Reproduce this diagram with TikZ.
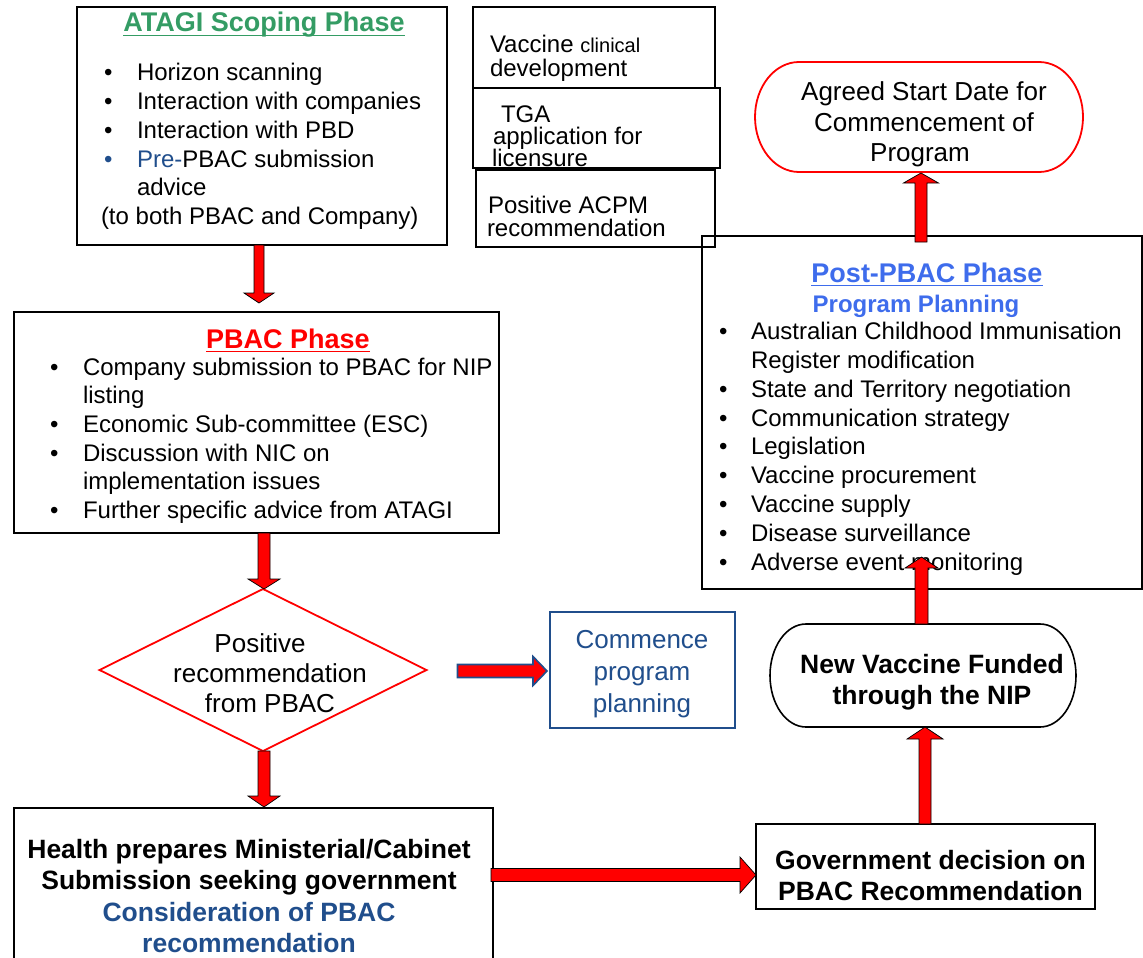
\documentclass[tikz,border=0pt]{standalone}
\usepackage{fontspec}
\setmainfont{Liberation Sans}
\usetikzlibrary{calc,shapes.geometric}
\definecolor{agreen}{RGB}{52,156,100}
\definecolor{pred}{RGB}{255,0,0}
\definecolor{pblue}{RGB}{62,108,236}
\definecolor{dblue}{RGB}{32,78,140}
\newcommand\fr{\fontsize{24}{29}\selectfont}
\newcommand\fl{\fontsize{26}{31}\selectfont}
\newcommand\fb{\fontsize{26.5}{31}\selectfont\bfseries}
\newcommand\ft{\fontsize{27}{31}\selectfont\bfseries}
\newcommand\fsm{\fontsize{20}{24}\selectfont}
% vertical / horizontal block arrows between named anchors
\newcommand\fatdown[8][fatred]{%
 \filldraw[#1] let \p1=(#3), \p2=(#4) in
 (#2pt-#6pt,\y1) -- (#2pt-#6pt,\y2+#5pt+#8pt) -- (#2pt-#7pt,\y2+#5pt+#8pt) -- (#2pt,\y2+#5pt) -- (#2pt+#7pt,\y2+#5pt+#8pt) -- (#2pt+#6pt,\y2+#5pt+#8pt) -- (#2pt+#6pt,\y1) -- cycle;}
\newcommand\fatup[8][fatred]{%
 \filldraw[#1] let \p1=(#3), \p2=(#4) in
 (#2pt-#6pt,\y1) -- (#2pt-#6pt,\y2-#5pt-#8pt) -- (#2pt-#7pt,\y2-#5pt-#8pt) -- (#2pt,\y2-#5pt) -- (#2pt+#7pt,\y2-#5pt-#8pt) -- (#2pt+#6pt,\y2-#5pt-#8pt) -- (#2pt+#6pt,\y1) -- cycle;}
\newcommand\fatright[8][fatred]{%
 \filldraw[#1] let \p1=(#3), \p2=(#4) in
 (\x1,-#2pt+#6pt) -- (\x2-#5pt-#8pt,-#2pt+#6pt) -- (\x2-#5pt-#8pt,-#2pt+#7pt) -- (\x2-#5pt,-#2pt) -- (\x2-#5pt-#8pt,-#2pt-#7pt) -- (\x2-#5pt-#8pt,-#2pt-#6pt) -- (\x1,-#2pt-#6pt) -- cycle;}
% stadium outline with elliptical ends around a node
\newcommand\stadium[3]{%
 \draw[#3] let \p1=(#1.north west), \p2=(#1.south east) in
 (\x1+#2pt,\y1) -- (\x2-#2pt,\y1)
 arc[start angle=90,end angle=-90,x radius=#2pt,y radius={(\y1-\y2)/2}]
 -- (\x1+#2pt,\y2)
 arc[start angle=270,end angle=90,x radius=#2pt,y radius={(\y1-\y2)/2}] -- cycle;}
\newcommand\uline[2]{%
 \draw[#2,line width=1.8pt] ($(#1.base west)+(0,3.5)$) -- ($(#1.base east)+(0,3.5)$);}

\begin{document}
\begin{tikzpicture}[x=1pt,y=-1pt,
 box/.style={draw=black,line width=1.5pt,inner sep=0,outer sep=0},
 shp/.style={inner sep=0,outer sep=0},
 tl/.style={inner sep=0,outer sep=0,anchor=base west,font=\fr},
 tc/.style={inner sep=0,outer sep=0,anchor=base,font=\fr},
 fatred/.style={fill=pred,draw=black,line width=0.7pt,line join=miter},
 fatblue/.style={fill=pred,draw=dblue,line width=1.6pt,line join=miter},
]
\useasboundingbox (0,0) rectangle (1143,958);

% ---------- boxes ----------
\node[box,minimum width=370pt,minimum height=238pt] (atagi) at (262,126) {};
\node[box,minimum width=485pt,minimum height=221pt] (pbac) at (256.5,422.5) {};
\node[shp,draw=pred,line width=1.8pt,diamond,minimum width=327pt,minimum height=162pt] (dia) at (263,670) {};
\node[shp,draw=dblue,line width=1.4pt,minimum width=185pt,minimum height=116pt] (comm) at (642.5,670) {};
\node[box,minimum width=479pt,minimum height=160pt] (health) at (253.5,888) {};
\node[box,minimum width=339pt,minimum height=85pt] (gov) at (925.5,866.5) {};
\node[shp,minimum width=306pt,minimum height=103pt] (nv) at (923,675.5) {};
\stadium{nv}{36}{black,line width=1.6pt}
\node[box,minimum width=440pt,minimum height=353pt] (post) at (922,412.5) {};
\node[shp,minimum width=328pt,minimum height=110pt] (agreed) at (919,117) {};
\stadium{agreed}{44}{pred,line width=1.8pt}
\node[box,minimum width=242pt,minimum height=81pt] (vcd) at (594,47.5) {};
\node[box,line width=2pt,minimum width=247pt,minimum height=80pt] (tga) at (596.5,128) {};
\node[box,minimum width=239pt,minimum height=77pt] (acpm) at (595.5,208.5) {};

% ---------- ATAGI text ----------
\node[tc,font=\ft,text=agreen] (atitle) at (264,32) {ATAGI Scoping Phase};
\uline{atitle}{agreen}
\node[tl] (ab1) at (104,81) {•};
\node[tl] (at1) at (137,81) {Horizon scanning};
\node[tl] (ab2) at (104,109.7) {•};
\node[tl] (at2) at (137,109.7) {Interaction with companies};
\node[tl] (ab3) at (104,138.4) {•};
\node[tl] (at3) at (137,138.4) {Interaction with PBD};
\node[tl,text=dblue] (ab4) at (104,167) {•};
\node[tl] (at4) at (137,167) {\textcolor{dblue}{Pre-}PBAC submission};
\node[tl] (at5) at (137,195.8) {advice};
\node[tl] (at6) at (101,224.5) {(to both PBAC and Company)};

% ---------- PBAC text ----------
\node[tc,font=\ft,text=pred] (ptitle) at (288,348) {PBAC Phase};
\uline{ptitle}{pred}
\node[tl] (pb1) at (50,375) {•};
\node[tl] (pt1) at (83,375) {Company submission to PBAC for NIP};
\node[tl] (pt2) at (83,403.7) {listing};
\node[tl] (pb3) at (50,432.4) {•};
\node[tl] (pt3) at (83,432.4) {Economic Sub-committee (ESC)};
\node[tl] (pb4) at (50,461.1) {•};
\node[tl] (pt4) at (83,461.1) {Discussion with NIC on};
\node[tl] (pt5) at (83,489.8) {implementation issues};
\node[tl] (pb6) at (50,518.5) {•};
\node[tl] (pt6) at (83,518.5) {Further specific advice from ATAGI};

% ---------- diamond text ----------
\node[tc,font=\fl] (d1) at (260,652) {Positive};
\node[tc,font=\fl] (d2) at (270,682) {recommendation};
\node[tc,font=\fl] (d3) at (270,712) {from PBAC};

% ---------- commence ----------
\node[tc,font=\fl,text=dblue] (c1) at (642,648) {Commence};
\node[tc,font=\fl,text=dblue] (c2) at (642,680) {program};
\node[tc,font=\fl,text=dblue] (c3) at (642,712) {planning};

% ---------- health ----------
\node[tc,font=\fb] (h1) at (249,858) {Health prepares Ministerial/Cabinet};
\node[tc,font=\fb] (h2) at (249,889.5) {Submission seeking government};
\node[tc,font=\fb,text=dblue] (h3) at (249,921) {Consideration of PBAC};
\node[tc,font=\fb,text=dblue] (h4) at (249,952.5) {recommendation};

% ---------- government ----------
\node[tc,font=\fb] (g1) at (930.5,869) {Government decision on};
\node[tc,font=\fb] (g2) at (930.5,900) {PBAC Recommendation};

% ---------- new vaccine ----------
\node[tc,font=\fb] (n1) at (932,673) {New Vaccine Funded};
\node[tc,font=\fb] (n2) at (932,704) {through the NIP};

% ---------- post-PBAC ----------
\node[tc,font=\ft,text=pblue] (qtitle) at (927,282) {Post-PBAC Phase};
\uline{qtitle}{pblue}
\node[tc,font=\fr\bfseries,text=pblue] (qsub) at (916,312) {Program Planning};
\node[tl] (qb1) at (719,339) {•};
\node[tl] (qt1) at (751,339) {Australian Childhood Immunisation};
\node[tl] (qt2) at (751,368) {Register modification};
\node[tl] (qb3) at (719,397) {•};
\node[tl] (qt3) at (751,397) {State and Territory negotiation};
\node[tl] (qb4) at (719,426) {•};
\node[tl] (qt4) at (751,426) {Communication strategy};
\node[tl] (qb5) at (719,454.5) {•};
\node[tl] (qt5) at (751,454.5) {Legislation};
\node[tl] (qb6) at (719,483.5) {•};
\node[tl] (qt6) at (751,483.5) {Vaccine procurement};
\node[tl] (qb7) at (719,512.5) {•};
\node[tl] (qt7) at (751,512.5) {Vaccine supply};
\node[tl] (qb8) at (719,541) {•};
\node[tl] (qt8) at (751,541) {Disease surveillance};
\node[tl] (qb9) at (719,570) {•};
\node[tl] (qt9) at (751,570) {Adverse event monitoring};

% ---------- agreed ----------
\node[tc,font=\fl] (ag1) at (924,100) {Agreed Start Date for};
\node[tc,font=\fl] (ag2) at (924,131) {Commencement of};
\node[tc,font=\fl] (ag3) at (920,161) {Program};

% ---------- small boxes ----------
\node[tl] (v1) at (490,53) {Vaccine {\fsm clinical}};
\node[tl] (v2) at (490,77) {development};
\node[tl] (tg1) at (501,122.5) {TGA};
\node[tl] (tg2) at (493,144.5) {application for};
\node[tl] (tg3) at (492,166.5) {licensure};
\node[tl] (ac1) at (488,213) {Positive ACPM};
\node[tl] (ac2) at (487,236.5) {recommendation};

% ---------- arrows ----------
\fatdown{259}{atagi.south}{pbac.north}{9}{5}{15}{10}
\fatdown{264}{pbac.south}{dia.north}{0}{6}{16}{10}
\fatdown{264}{dia.south}{health.north}{1}{6}{16}{11}
\fatright[fatblue]{671}{$(dia.east)+(31,0)$}{comm.west}{3}{6.5}{14.5}{14}
\fatright{875}{$(health.east)+(-2,0)$}{gov.west}{0}{6.5}{18}{16}
\fatup{925}{gov.north}{nv.south}{0}{6}{18}{12}
\fatup{921.5}{nv.north}{$(post.south)+(0,-32)$}{0}{6.5}{16.5}{11}
\fatup{921}{$(post.north)+(0,6)$}{agreed.south}{1}{6}{17.5}{10}
\end{tikzpicture}
\end{document}
